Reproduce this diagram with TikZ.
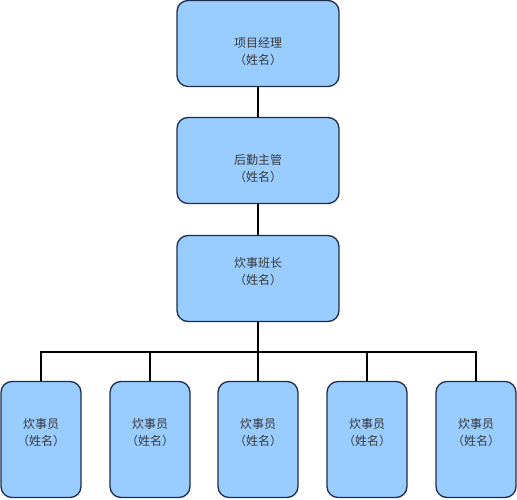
\documentclass[tikz,border=0pt]{standalone}
\usepackage{fontspec}
\newfontfamily\cjk{Noto Sans CJK SC}
\usetikzlibrary{positioning}

\definecolor{boxfill}{HTML}{99CCFF}
\definecolor{boxline}{HTML}{1F2D4A}
\definecolor{boxtext}{HTML}{3A3A3A}

% post title over the name line, raised or lowered by #2
\newcommand\staff[2]{\raisebox{#2}[0pt][0pt]{\begin{tabular}{@{}c@{}}#1\\（姓名）\end{tabular}}}

\tikzset{
  post/.style={draw=boxline, fill=boxfill, line width=1.3pt, rounded corners=11pt,
    text=boxtext, font=\cjk\fontsize{12}{17}\selectfont},
  head/.style={post, minimum width=162pt, minimum height=86pt},
  crew/.style={post, minimum width=80pt, minimum height=116pt},
  wire/.style={line width=1.1pt, black}
}

\begin{document}
\begin{tikzpicture}[x=1pt,y=1pt,on grid]
            \useasboundingbox (0,0) rectangle (517,500);
            \node[crew] (cook_1) at (41,60.5) {\staff{炊事员}{3pt}};
            \node[crew] (cook_2) [right=109pt of cook_1] {\staff{炊事员}{3pt}};
            \node[crew] (cook_3) [right=108pt of cook_2] {\staff{炊事员}{3pt}};
            \node[crew] (cook_4) [right=109pt of cook_3] {\staff{炊事员}{3pt}};
            \node[crew] (cook_5) [right=109pt of cook_4] {\staff{炊事员}{3pt}};
            \node[head] (lead) [above=161pt of cook_3] {\staff{炊事班长}{3pt}};
            \node[head] (logi) [above=118pt of lead] {\staff{后勤主管}{-12pt}};
            \node[head] (pm) [above=117pt of logi] {\staff{项目经理}{-12pt}};
            \coordinate (bus) at (cook_3 |- 0,148);
            \draw[wire] (pm) -- (logi);
            \draw[wire] (logi) -- (lead);
            \draw[wire] (lead) -- (bus);
            \draw[wire] (bus) -| (cook_1);
            \draw[wire] (bus) -| (cook_2);
            \draw[wire] (bus) -- (cook_3);
            \draw[wire] (bus) -| (cook_4);
            \draw[wire] (bus) -| (cook_5);
        \end{tikzpicture}
\end{document}
